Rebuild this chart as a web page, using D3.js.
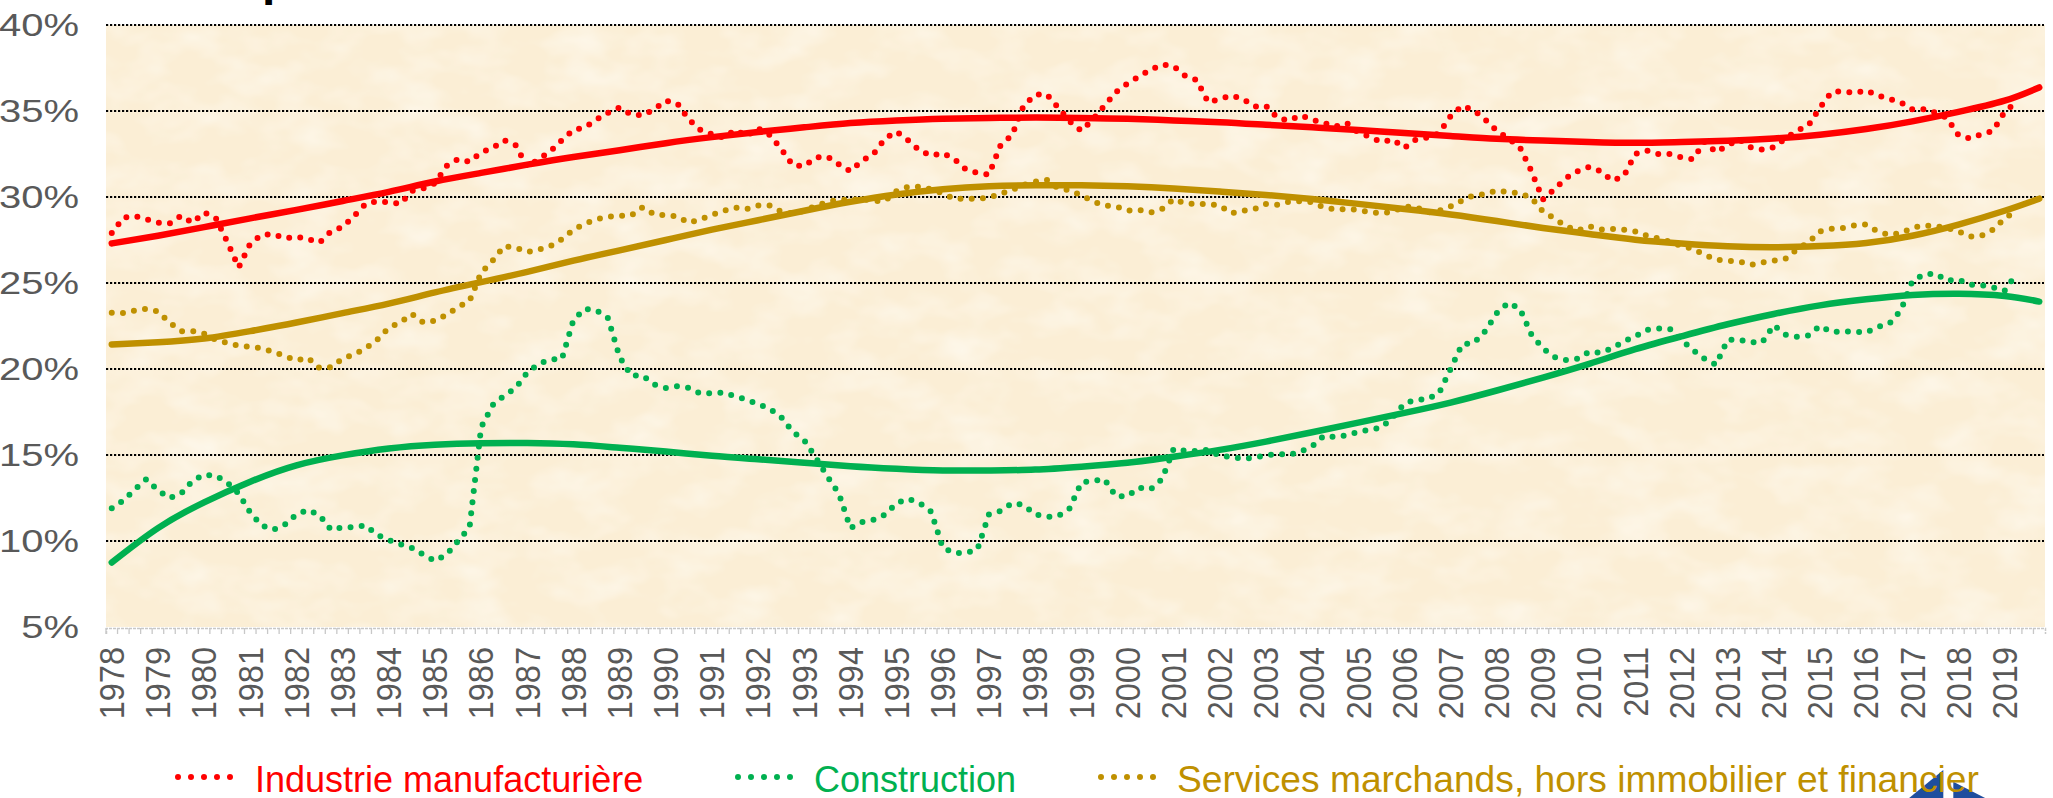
<!DOCTYPE html>
<html><head><meta charset="utf-8">
<script src="https://cdn.jsdelivr.net/npm/d3@7"></script>
<style>
html,body{margin:0;padding:0;background:#ffffff;overflow:hidden;}
svg{display:block;font-family:"Liberation Sans",Arial,sans-serif;}
</style></head>
<body>
<svg id="chart" width="2053" height="798"></svg>
<script>
// ---------- DATA ----------
const yearLabels = ["1978","1979","1980","1981","1982","1983","1984","1985","1986","1987","1988","1989","1990","1991","1992","1993","1994","1995","1996","1997","1998","1999","2000","2001","2002","2003","2004","2005","2006","2007","2008","2009","2010","2011","2012","2013","2014","2015","2016","2017","2018","2019"];
const quarterNames = ["T1","T2","T3","T4"];
const yTickValues = [5,10,15,20,25,30,35,40];

const seriesNames = ["Industrie manufacturière","Construction","Services marchands, hors immobilier et financier"];
const seriesColors = ["#FF0000","#00B050","#BF9000"];

// quarterly values (%), 1978T1 ... 2019T2
const industrie = [27.9,28.8,28.9,28.7,28.5,28.45,28.9,28.5,29.1,28.8,27.4,25.9,27.3,27.8,27.85,27.6,27.7,27.55,27.35,28.0,
28.25,28.9,29.6,29.75,29.7,29.6,30.35,30.5,30.8,31.8,32.2,32.05,32.6,32.85,33.3,33.0,31.75,32.2,32.65,33.3,
33.9,34.05,34.5,34.9,35.2,34.8,34.75,35.1,35.6,35.45,34.5,33.9,33.65,33.45,33.9,33.55,34.0,33.6,32.8,31.85,
31.8,32.3,32.35,31.9,31.5,32.1,32.5,33.4,33.8,33.3,32.7,32.4,32.55,32.2,31.6,31.4,31.3,33.0,33.6,35.3,
35.95,35.98,35.2,34.4,33.85,34.5,35.3,36.1,36.6,37.0,37.4,37.7,37.6,37.05,36.8,35.5,35.7,35.9,35.7,35.25,
35.3,34.6,34.45,34.75,34.5,34.3,34.1,34.3,33.75,33.5,33.2,33.35,32.85,33.35,33.45,33.7,34.7,35.3,35.05,34.5,
33.85,33.4,32.9,31.5,29.85,30.45,31.1,31.5,31.75,31.5,30.95,31.2,32.5,32.7,32.5,32.5,32.3,32.2,33.2,32.6,
33.0,33.35,32.9,32.75,32.9,33.4,33.85,34.15,35.2,36.1,36.15,36.05,36.2,35.9,35.7,35.5,35.1,35.1,34.9,34.6,
33.6,33.4,33.65,33.85,34.95,35.5];

const construction = [11.9,12.35,13.0,13.6,12.95,12.5,12.75,13.5,13.85,13.8,13.4,12.75,11.65,10.9,10.65,10.95,11.55,11.8,11.5,10.65,
10.8,10.8,10.9,10.35,10.05,9.82,9.6,9.2,8.84,9.2,10.0,10.8,16.6,17.9,18.45,18.9,19.8,20.3,20.55,20.58,
22.85,23.5,23.4,22.95,20.7,19.62,19.62,19.1,18.9,19.0,18.9,18.58,18.6,18.63,18.42,18.22,17.96,17.69,17.2,16.35,
15.85,14.85,13.75,12.75,10.75,11.1,11.23,11.53,12.2,12.45,12.2,11.7,9.6,9.3,9.3,9.5,11.55,11.75,12.2,12.1,
11.55,11.4,11.45,11.9,13.4,13.5,13.6,12.6,12.6,13.1,13.0,13.6,15.35,15.25,15.23,15.3,14.95,14.9,14.77,14.85,
14.98,15.07,15.0,15.2,15.5,16.1,16.05,16.15,16.35,16.47,16.6,17.2,18.0,18.2,18.25,18.6,20.0,21.45,21.5,22.2,
23.25,23.85,23.5,22.0,21.2,20.7,20.52,20.6,21.0,20.95,21.2,21.6,21.9,22.28,22.35,22.33,21.7,21.1,20.6,20.25,
21.7,21.7,21.55,21.55,22.55,22.0,21.88,21.95,22.5,22.15,22.18,22.17,22.12,22.45,22.63,23.4,25.1,25.5,25.55,25.15,
25.2,24.9,24.88,24.75,24.55,25.5];

const services = [23.27,23.25,23.4,23.5,23.35,22.7,22.2,22.2,22.05,21.7,21.52,21.35,21.3,21.2,21.0,20.75,20.5,20.65,20.05,20.1,
20.6,20.85,21.2,21.7,22.4,22.7,23.2,22.7,22.8,23.15,23.6,23.95,25.6,26.3,27.15,27.05,26.8,26.95,27.15,27.55,
28.1,28.45,28.7,28.85,28.9,28.92,29.4,29.0,28.93,28.87,28.5,28.7,28.95,29.2,29.38,29.3,29.5,29.5,29.15,29.05,
29.2,29.5,29.7,29.85,29.83,29.9,29.76,29.78,30.35,30.6,30.6,30.45,30.2,29.9,29.9,29.9,29.95,30.2,30.4,30.7,
30.9,31.0,30.5,30.4,30.1,29.75,29.5,29.45,29.2,29.25,29.1,29.3,29.87,29.62,29.6,29.6,29.5,29.05,29.2,29.3,
29.6,29.55,29.73,29.75,29.7,29.4,29.28,29.3,29.25,29.12,29.05,29.15,29.45,29.42,29.1,29.2,29.45,29.8,30.1,30.17,
30.38,30.28,30.23,29.95,29.15,28.75,28.3,28.05,28.3,28.1,28.15,28.1,28.0,27.75,27.6,27.4,27.15,26.98,26.65,26.35,
26.3,26.25,26.05,26.2,26.3,26.4,26.95,27.35,28.0,28.15,28.2,28.35,28.4,28.0,27.8,27.9,28.2,28.35,28.3,28.2,
28.0,27.7,27.75,28.1,28.75,29.2];

// trend curves read at each year's first quarter, plus the final point 2019T4
const trendIndustrie = [27.3,27.75,28.25,28.76,29.25,29.77,30.3,30.9,31.4,31.88,32.33,32.72,33.13,33.48,33.78,34.05,34.3,34.45,34.55,34.6,
34.62,34.6,34.55,34.45,34.35,34.2,34.05,33.9,33.72,33.55,33.38,33.28,33.2,33.15,33.2,33.27,33.4,33.62,33.95,34.4,
34.95,35.6,36.37];
const trendConstruction = [8.75,10.75,12.25,13.45,14.4,14.98,15.38,15.6,15.69,15.7,15.62,15.42,15.2,14.95,14.75,14.55,14.35,14.2,14.1,14.1,
14.15,14.32,14.55,14.9,15.3,15.78,16.32,16.88,17.45,18.05,18.75,19.5,20.3,21.15,21.9,22.6,23.2,23.7,24.05,24.3,
24.38,24.25,23.92];
const trendServices = [21.43,21.55,21.77,22.2,22.7,23.25,23.8,24.45,25.05,25.65,26.3,26.9,27.5,28.1,28.65,29.2,29.72,30.15,30.45,30.62,
30.68,30.68,30.62,30.5,30.32,30.12,29.88,29.6,29.3,28.98,28.6,28.2,27.85,27.52,27.3,27.14,27.08,27.15,27.33,27.75,
28.4,29.2,29.9];

// ---------- LAYOUT ----------
const W = 2053, H = 798;
const plot = {left:106, right:2045, top:25, bottom:627};

const quarters = yearLabels.flatMap(yr => quarterNames.map(q => yr + q));
const trendCats = yearLabels.map(yr => yr + "T1").concat([yearLabels[yearLabels.length-1] + "T4"]);

const svg = d3.select("#chart");

const defs = svg.append("defs");
const f = defs.append("filter").attr("id","parch").attr("x",0).attr("y",0).attr("width",1).attr("height",1);
f.append("feTurbulence").attr("type","fractalNoise").attr("baseFrequency","0.018 0.03")
  .attr("numOctaves",3).attr("seed",7).attr("result","n");
f.append("feColorMatrix").attr("in","n").attr("type","matrix")
  .attr("values","0 0 0 0 1  0 0 0 0 0.99  0 0 0 0 0.95  1.1 0 0 0 -0.45");

const x = d3.scaleBand().domain(quarters).range([plot.left, plot.right]).padding(0);
const cx = c => x(c) + x.bandwidth()/2;
const y = d3.scaleLinear().domain([5,40]).range([plot.bottom, plot.top]);

// title fragment (cut by the top edge, as in the source image)
svg.append("text").attr("x",262).attr("y",-5.5)
  .attr("font-size",48).attr("font-weight","bold").attr("fill","#000").text("p");

// plot background (parchment)
svg.append("rect").attr("x",plot.left).attr("y",plot.top)
  .attr("width",plot.right-plot.left).attr("height",plot.bottom-plot.top)
  .attr("fill","#FBEED5");
svg.append("rect").attr("x",plot.left).attr("y",plot.top)
  .attr("width",plot.right-plot.left).attr("height",plot.bottom-plot.top)
  .attr("filter","url(#parch)");

// gridlines
svg.append("g").selectAll("line").data(yTickValues.filter(v => v > 5)).join("line")
  .attr("x1",plot.left).attr("x2",plot.right-1)
  .attr("y1",d=>y(d)).attr("y2",d=>y(d))
  .attr("stroke","#000").attr("stroke-width",2.2).attr("stroke-dasharray","2.2 1.8");

// y labels
svg.append("g").selectAll("text").data(yTickValues).join("text")
  .attr("transform",d=>`translate(79,${y(d)}) scale(1.25,1)`)
  .attr("text-anchor","end").attr("dy","0.35em")
  .attr("font-size",32).attr("fill","#595959")
  .text(d=>d+"%");

// x axis line and quarter ticks
const xAxis = d3.axisBottom(x).tickValues(quarters).tickSize(6).tickFormat("");
const gx = svg.append("g").attr("transform",`translate(0,${plot.bottom+1})`).call(xAxis);
gx.select(".domain").attr("stroke","#C8C8C8").attr("stroke-width",1.5).attr("stroke-dasharray","3 1");
gx.selectAll(".tick line").attr("stroke","#C8C8C8").attr("stroke-width",1.3)
  .attr("transform",`translate(${-x.bandwidth()/2},0)`);

// x labels (years, rotated)
svg.append("g").selectAll("text").data(yearLabels).join("text")
  .attr("transform",d=>`translate(${cx(d+"T1")},647) rotate(-90) scale(1,1.08)`)
  .attr("text-anchor","end").attr("dy","0.35em")
  .attr("font-size",32.5).attr("fill","#595959")
  .text(d=>d);

// series (dotted)
const seriesData = [industrie, construction, services];
const line = d3.line().x((d,i)=>cx(quarters[i])).y(d=>y(d));
svg.append("g").selectAll("path").data(seriesData).join("path")
  .attr("d",d=>line(d)).attr("fill","none")
  .attr("stroke",(d,i)=>seriesColors[i]).attr("stroke-width",6)
  .attr("stroke-linecap","round").attr("stroke-dasharray","0 11.2");

// trend lines
const trendData = [trendIndustrie, trendConstruction, trendServices];
const tline = d3.line().curve(d3.curveNatural).x((d,i)=>cx(trendCats[i])).y(d=>y(d));
svg.append("g").selectAll("path").data(trendData).join("path")
  .attr("d",d=>tline(d)).attr("fill","none")
  .attr("stroke",(d,i)=>seriesColors[i]).attr("stroke-width",6.5)
  .attr("stroke-linecap","round");

// logo (decoration, bottom right, cut by the edge)
const logo = svg.append("g").attr("fill","#1F4E9E");
logo.append("path").attr("d","M1906.7,800 L1943.3,770 L1943.3,800 Z");
logo.append("path").attr("d","M1953.3,781.7 L1989,800 L1953.3,800 Z");

// legend
const legendItems = [
  {name:seriesNames[0], color:seriesColors[0], mx:178, tx:255, fs:36},
  {name:seriesNames[1], color:seriesColors[1], mx:738, tx:814, fs:36},
  {name:seriesNames[2], color:seriesColors[2], mx:1101, tx:1177, fs:37.2}
];
const lg = svg.append("g");
lg.selectAll("line").data(legendItems).join("line")
  .attr("x1",d=>d.mx).attr("x2",d=>d.mx+65).attr("y1",777).attr("y2",777)
  .attr("stroke",d=>d.color).attr("stroke-width",6)
  .attr("stroke-linecap","round").attr("stroke-dasharray","0 13");
lg.selectAll("text").data(legendItems).join("text")
  .attr("x",d=>d.tx).attr("y",791.5)
  .attr("font-size",d=>d.fs).attr("fill",d=>d.color)
  .text(d=>d.name);
</script>
</body></html>
